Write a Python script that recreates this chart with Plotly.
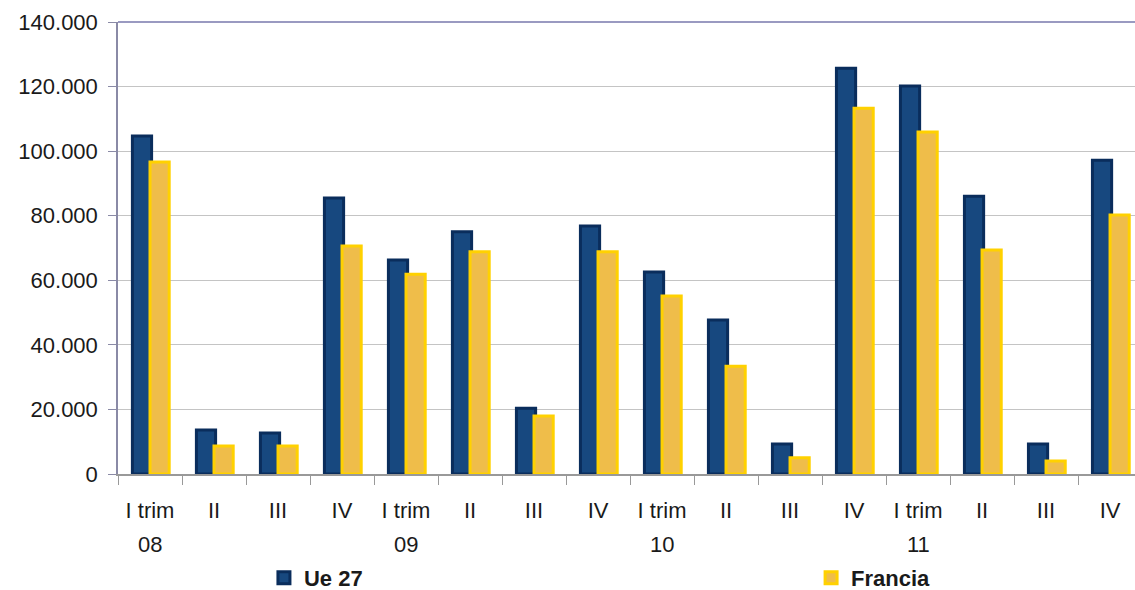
import plotly.graph_objects as go

categories = ["I trim 08", "II 08", "III 08", "IV 08",
              "I trim 09", "II 09", "III 09", "IV 09",
              "I trim 10", "II 10", "III 10", "IV 10",
              "I trim 11", "II 11", "III 11", "IV 11"]
tick_labels = ["I trim", "II", "III", "IV",
               "I trim", "II", "III", "IV",
               "I trim", "II", "III", "IV",
               "I trim", "II", "III", "IV"]
year_positions = ["I trim 08", "I trim 09", "I trim 10", "I trim 11"]
year_labels = ["08", "09", "10", "11"]
ue27 = [104700, 13600, 12700, 85500, 66300, 75000, 20400, 76800,
        62600, 47700, 9300, 125700, 120200, 86000, 9300, 97200]
francia = [96600, 8700, 8700, 70600, 61900, 68800, 18000, 68800,
           55100, 33400, 5000, 113300, 105900, 69400, 4000, 80200]

FONT = "Liberation Sans, Arial, sans-serif"
TXT = "#1a1a1a"

fig = go.Figure()
fig.add_trace(go.Bar(
    x=categories, y=ue27, name="Ue 27", legend="legend",
    width=0.30, offset=-0.275,
    marker=dict(color="#17487f", line=dict(color="#0a2d5c", width=3)),
))
fig.add_trace(go.Bar(
    x=categories, y=francia, name="Francia", legend="legend2",
    width=0.30, offset=0.0,
    marker=dict(color="#efbd4a", line=dict(color="#ffd100", width=3)),
))

legend_font = dict(size=22, color=TXT, family=FONT, weight="bold")

fig.update_layout(
    width=1135, height=590,
    margin=dict(l=118, r=0, t=22, b=116, autoexpand=False),
    paper_bgcolor="white", plot_bgcolor="white",
    separators=",.",
    barmode="overlay",
    font=dict(family=FONT, size=22, color=TXT),
    showlegend=True,
    legend=dict(orientation="h", x=0.1435, xanchor="left", y=-0.23, yanchor="middle",
                bgcolor="rgba(0,0,0,0)", font=legend_font),
    legend2=dict(orientation="h", x=0.6815, xanchor="left", y=-0.23, yanchor="middle",
                 bgcolor="rgba(0,0,0,0)", font=legend_font),
    xaxis=dict(
        type="category", automargin=False,
        tickmode="array", tickvals=categories, ticktext=tick_labels,
        tickson="boundaries", ticks="outside", ticklen=9, tickcolor="#999999",
        showline=True, linecolor="#999999", linewidth=1.5,
        showgrid=False, range=[-0.5, 15.39],
        ticklabelstandoff=16,
    ),
    yaxis=dict(
        automargin=False,
        range=[0, 140000], dtick=20000, tickformat=",d",
        ticks="outside", ticklen=8, tickcolor="#8a8aa6",
        showline=True, linecolor="#8a8aa6", linewidth=1.5,
        showgrid=True, gridcolor="#c4c4c4", gridwidth=1,
        ticklabelstandoff=6, zeroline=False,
    ),
    shapes=[dict(type="line", xref="paper", yref="paper", x0=0, x1=1, y0=1, y1=1,
                 line=dict(color="#7878ac", width=1.5))],
)

for pos, lab in zip(year_positions, year_labels):
    fig.add_annotation(x=pos, xref="x", y=-0.157, yref="paper", yanchor="middle",
                       text=lab, showarrow=False, font=dict(size=22, color=TXT, family=FONT))

fig.write_html("out.html", config={"displayModeBar": False},
               post_script="document.body.style.margin='0';")
